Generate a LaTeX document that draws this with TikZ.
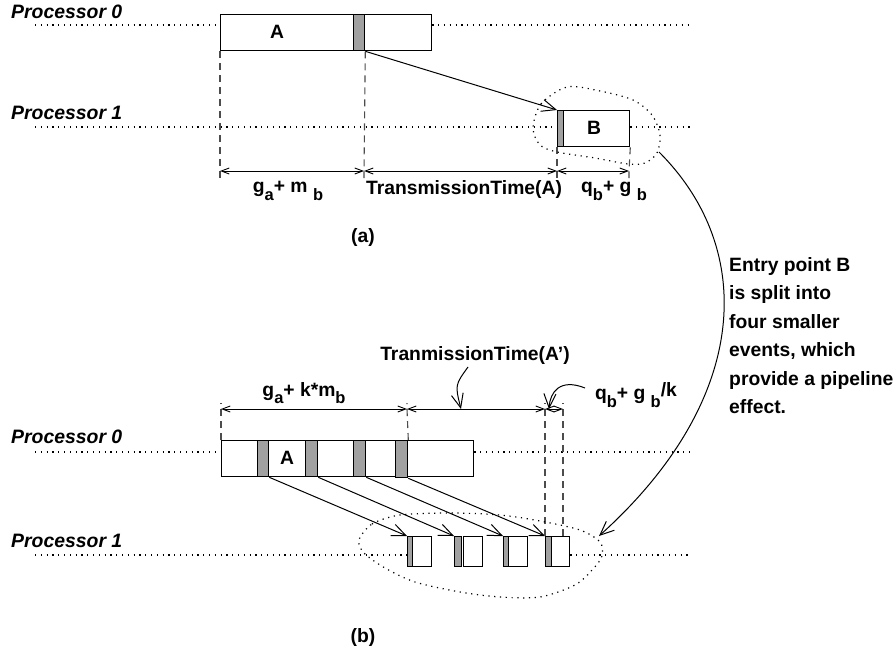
\documentclass[tikz,border=0pt]{standalone}
\usepackage{fontspec}
\setmainfont{Liberation Sans}
\usetikzlibrary{arrows.meta,positioning}
\newcommand{\lowidx}[1]{\raisebox{-0.4em}{\fontsize{16.5}{16.5}\selectfont #1}}
\tikzset{
  procbox/.style={draw, line width=1.3pt, fill=white, rectangle, inner sep=0pt, anchor=north west},
  slot/.style={draw, line width=1.3pt, fill=black!37, rectangle, inner sep=0pt, anchor=north west},
  timeline/.style={line width=1.2pt, dash pattern=on 1.2pt off 4.6pt},
  guide/.style={draw=black!70, line width=1.1pt, dash pattern=on 7pt off 5pt},
  dimline/.style={{Straight Barb[length=8pt,width=6pt]}-{Straight Barb[length=8pt,width=6pt]}, line width=0.9pt},
  msgarrow/.style={-{Straight Barb[length=14pt,width=12pt]}, line width=1pt},
  proclabel/.style={font=\fontsize{19.4}{22}\selectfont\bfseries\itshape, anchor=west, inner sep=0pt},
  lbl/.style={font=\fontsize{19.3}{22}\selectfont\bfseries, inner sep=0pt}
}

\begin{document}
\begin{tikzpicture}[x=1pt, y=-1pt]
    \useasboundingbox (0,0) rectangle (896,658);

    % (a) one message A -> B
    \node[proclabel] (p0a) at (11,12) {Processor 0};
    \node[proclabel] (p1a) at (11,113) {Processor 1};
    \coordinate (t0a) at (35,25);
    \coordinate (t0aend) at (690,25);
    \coordinate (t1a) at (35,127);
    \coordinate (t1aend) at (690,127);

    \node[procbox, minimum width=211, minimum height=36] (A) at (220,14) {};
    \node[slot, minimum width=11, minimum height=36] (sa) at (353,14) {};
    \node[lbl] (txtA) at (277,32) {A};
    \node[procbox, minimum width=72, minimum height=36] (B) at (557,110) {};
    \node[slot, minimum width=6, minimum height=36] (sb) at (557,110) {};
    \node[lbl] (txtB) at (594,128) {B};

    \draw[timeline] (t0a) -- (t0a -| A.west);
    \draw[timeline] (t0a -| A.east) -- (t0aend);
    \draw[timeline] (t1a) -- (t1a -| B.west);
    \draw[timeline] (t1a -| B.east) -- (t1aend);

    \draw[msgarrow] (sa.south east) -- (sb.north west);

    \coordinate (da0) at (220,171);
    \coordinate (da1) at (364,171);
    \coordinate (da2) at (557,171);
    \coordinate (da3) at (629,171);
    \draw[guide] (A.south west) -- (da0) -- ++(0,7);
    \draw[guide] (sa.south east) -- (da1) -- ++(0,7);
    \draw[guide] (B.south west) -- (da2) -- ++(0,7);
    \draw[guide] (B.south east) -- (da3) -- ++(0,7);
    \draw[dimline] (da0) -- (da1);
    \draw[dimline] (da1) -- (da2);
    \draw[dimline] (da2) -- (da3);

    \node[lbl] (gm) at (288,191) {g\lowidx{a}+ m \lowidx{b}};
    \node[lbl] (tt) at (464,190) {TransmissionTime(A)};
    \node[lbl] (qg) at (614,191) {q\lowidx{b}+ g \lowidx{b}};
    \node[lbl] (capa) at (363,238) {(a)};

    \draw[timeline] plot[smooth cycle] coordinates {(533,128) (541,104) (567,87) (600,91) (633,100) (652,115) (660,135) (657,153) (645,163) (628,164) (595,158) (557,152) (540,145)};

    % pointer from B to the split events
    \coordinate (blobA) at (659,152);
    \coordinate (blobB) at (599,536);
    \draw[msgarrow] (blobA) .. controls (757,250) and (750,400) .. (blobB);
    \node[lbl, font=\fontsize{19.3}{28.5}\selectfont\bfseries, align=left, anchor=north west] (note) at (729,257)
        {Entry point B\\is split into\\four smaller\\events, which\\provide a pipeline\\effect.};

    % (b) A split into four pieces
    \node[proclabel] (p0b) at (11,437) {Processor 0};
    \node[proclabel] (p1b) at (11,541) {Processor 1};
    \coordinate (t0b) at (35,452);
    \coordinate (t0bend) at (690,452);
    \coordinate (t1b) at (35,555);
    \coordinate (t1bend) at (690,555);

    \node[procbox, minimum width=252, minimum height=36] (A2) at (221,440) {};
    \node[slot, minimum width=11, minimum height=36] (s1) at (257,440) {};
    \node[slot, minimum width=12, minimum height=36] (s2) at (305,440) {};
    \node[slot, minimum width=12, minimum height=36] (s3) at (353,440) {};
    \node[slot, minimum width=12, minimum height=37] (s4) at (395,440) {};
    \node[lbl] (txtA2) at (287,458) {A};

    \node[slot, minimum width=5, minimum height=30] (g1) at (407,536) {};
    \node[procbox, minimum width=19, minimum height=30] (w1) at (412,536) {};
    \node[slot, minimum width=7, minimum height=30] (g2) at (454,536) {};
    \node[procbox, minimum width=19, minimum height=30] (w2) at (463,536) {};
    \node[slot, minimum width=5, minimum height=30] (g3) at (503,536) {};
    \node[procbox, minimum width=19, minimum height=30] (w3) at (508,536) {};
    \node[slot, minimum width=6, minimum height=30] (g4) at (545,536) {};
    \node[procbox, minimum width=18, minimum height=30] (w4) at (551,536) {};

    \draw[timeline] (t0b) -- (t0b -| A2.west);
    \draw[timeline] (t0b -| A2.east) -- (t0bend);
    \draw[timeline] (t1b) -- (t1b -| g1.west);
    \draw[timeline] (t1b -| w4.east) -- (t1bend);

    \draw[msgarrow] (s1.south east) -- (g1.north west);
    \draw[msgarrow] (s2.south east) -- (g2.north west);
    \draw[msgarrow] (s3.south east) -- (g3.north west);
    \draw[msgarrow] (s4.south east) -- (g4.north west);

    \coordinate (db0) at (221,409);
    \coordinate (db1) at (407,409);
    \coordinate (db2) at (545,409);
    \coordinate (db3) at (563,409);
    \draw[guide] (A2.north west) -- (db0) -- ++(0,-6);
    \draw[guide] (s4.north east) -- (db1) -- ++(0,-6);
    \draw[guide] (g4.north west) -- (db2) -- ++(0,-6);
    \draw[guide] (w4.north west -| db3) -- (db3) -- ++(0,-6);
    \draw[dimline] (db0) -- (db1);
    \draw[dimline] (db1) -- (db2);
    \draw[dimline] (db2) -- (db3);

    \node[lbl] (gkm) at (304,393) {g\lowidx{a}+ k*m\lowidx{b}};
    \node[lbl] (tt2) at (475,356) {TranmissionTime(A')};
    \node[lbl] (qgk) at (636,395) {q\lowidx{b}+ g \lowidx{b}\raisebox{0.15em}{/k}};
    \node[lbl] (capb) at (363,638) {(b)};

    \coordinate (ptt) at (468,367);
    \coordinate (ptttip) at (461,409);
    \coordinate (pqg) at (585,388);
    \coordinate (pqgtip) at (549,409);
    \draw[msgarrow] (ptt) .. controls (455,385) .. (ptttip);
    \draw[msgarrow] (pqg) .. controls (560,378) and (550,392) .. (pqgtip);

    \draw[timeline] plot[smooth cycle] coordinates {(359,540) (372,524) (400,515) (450,513) (500,515) (540,521) (580,530) (600,542) (602,556) (593,569) (575,585) (540,597) (500,597) (460,592) (415,582) (385,568) (364,553)};
\end{tikzpicture}
\end{document}
